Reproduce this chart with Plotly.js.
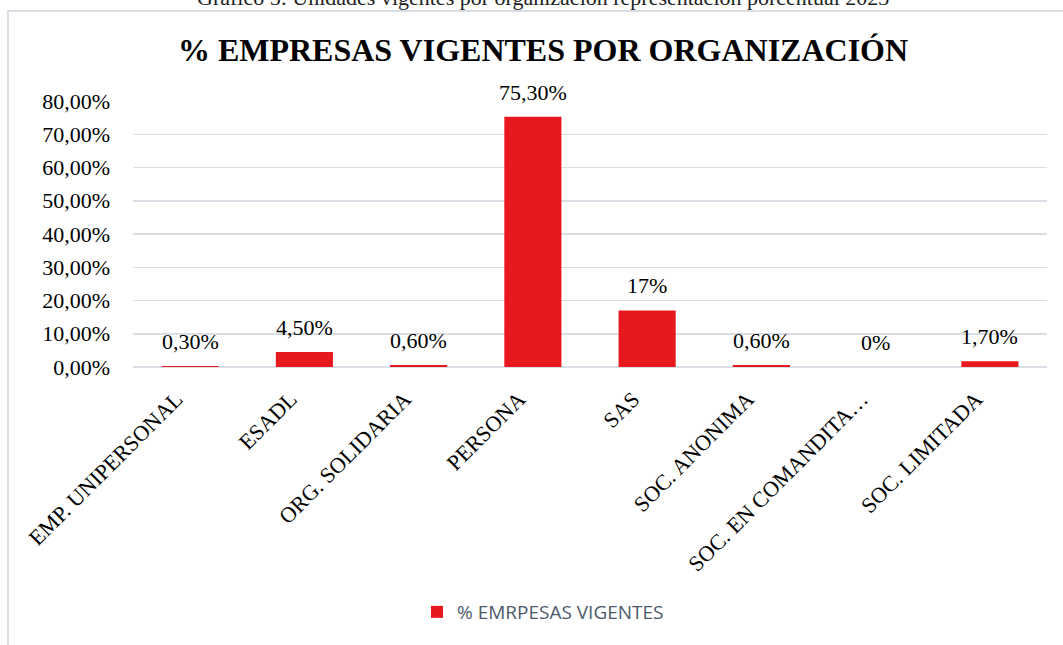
<!DOCTYPE html>
<html>
<head>
<meta charset="utf-8">
<script src="https://cdn.plot.ly/plotly-3.0.1.min.js"></script>
<style>html,body{margin:0;padding:0;background:#fff;}#chart{width:1063px;height:645px;}</style>
</head>
<body>
<div id="chart"></div>
<script>
const categories = ["EMP. UNIPERSONAL", "ESADL", "ORG. SOLIDARIA", "PERSONA", "SAS", "SOC. ANONIMA", "SOC. EN COMANDITA…", "SOC. LIMITADA"];
const values = [0.3, 4.5, 0.6, 75.3, 17, 0.6, 0, 1.7];
const valueLabels = ["0,30%", "4,50%", "0,60%", "75,30%", "17%", "0,60%", "0%", "1,70%"];
const seriesName = "% EMRPESAS VIGENTES";
const chartTitle = "% EMPRESAS VIGENTES POR ORGANIZACIÓN";
const caption = "Gráfico 5: Unidades vigentes por organización representación porcentual 2023";

const serif = "Liberation Serif, Times New Roman, serif";
const W = 1063, H = 645;
const L = 133, R = 16, T = 101, B = 278;
const pw = W - L - R, ph = H - T - B;
const px = x => (x - L) / pw;
const py = y => (H - B - y) / ph;

const annotations = categories.map((c, i) => ({
  x: c, y: values[i], xref: 'x', yref: 'y',
  text: valueLabels[i], showarrow: false,
  yanchor: 'bottom', yshift: 10,
  font: {family: serif, size: 22, color: '#000'}
}));
annotations.push({
  xref: 'paper', yref: 'paper', x: px(543), y: py(-3),
  xanchor: 'center', yanchor: 'middle', showarrow: false,
  text: caption, font: {family: serif, size: 22, color: '#222'}
});

const trace = {
  type: 'bar', x: categories, y: values, name: seriesName,
  marker: {color: '#E8181F', line: {width: 0}},
  width: 0.5, showlegend: true, hoverinfo: 'x+y'
};

const layout = {
  width: W, height: H,
  margin: {l: L, r: R, t: T, b: B, pad: 0},
  paper_bgcolor: '#fff', plot_bgcolor: '#fff',
  separators: ',.',
  title: {
    text: '<b>' + chartTitle + '</b>',
    font: {family: serif, size: 32, color: '#000'},
    x: 543 / W, xref: 'container', xanchor: 'center',
    y: 1 - 50 / H, yref: 'container', yanchor: 'middle'
  },
  xaxis: {
    type: 'category', tickangle: -45,
    tickfont: {family: serif, size: 22, color: '#000'},
    showgrid: false, showline: false, ticks: '', automargin: false,
    ticklabelstandoff: 14, ticklabelshift: -14
  },
  yaxis: {
    range: [0, 80], dtick: 10, tickformat: '.2f', ticksuffix: '%',
    tickfont: {family: serif, size: 22, color: '#000'},
    showgrid: true, gridcolor: '#D9DEE4', gridwidth: 1.5,
    zeroline: true, zerolinecolor: '#D9DEE4', zerolinewidth: 1.5,
    showline: false, ticks: '', ticklabelstandoff: 22, automargin: false
  },
  showlegend: true,
  legend: {
    orientation: 'h', x: px(543), xanchor: 'center', y: py(612), yanchor: 'middle',
    font: {family: 'Open Sans, sans-serif', size: 19, color: '#4D5A6B'},
    itemwidth: 30
  },
  shapes: [{
    type: 'rect', xref: 'paper', yref: 'paper',
    x0: px(8), x1: px(1100), y0: py(700), y1: py(11),
    line: {color: '#D9DEE4', width: 2}, fillcolor: 'rgba(0,0,0,0)', layer: 'below'
  }],
  annotations: annotations,
  bargap: 0.5
};

Plotly.newPlot('chart', [trace], layout, {displayModeBar: false, staticPlot: true});
</script>
</body>
</html>
